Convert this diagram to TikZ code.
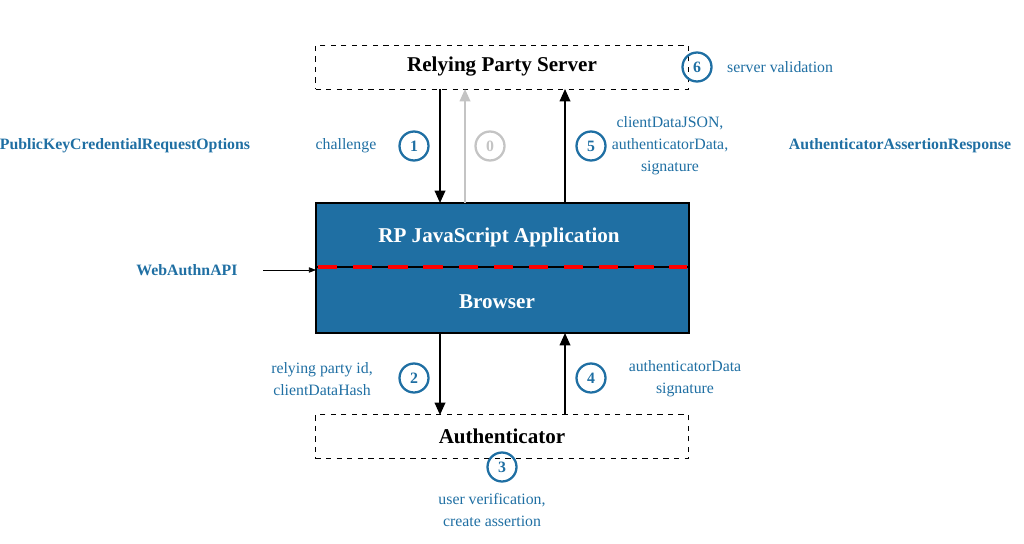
\documentclass[tikz,border=0pt]{standalone}
\usepackage{fontspec}
\setmainfont{Liberation Serif}
\usetikzlibrary{arrows.meta}
\definecolor{wablue}{HTML}{1F6FA3}
\definecolor{wagrey}{HTML}{C4C4C4}
\begin{document}
\begin{tikzpicture}[x=0.02cm,y=-0.02cm,
    every node/.style={font=\fontsize{9}{12.5}\selectfont},
    party/.style={draw,dashed,minimum width=7.46cm,minimum height=0.88cm,font=\fontsize{12}{14}\selectfont\bfseries},
    badge/.style={circle,draw=wablue,line width=1.3pt,text=wablue,minimum size=0.58cm,inner sep=0pt,font=\fontsize{9}{10}\selectfont\bfseries},
    note/.style={text=wablue,align=center},
    api/.style={text=wablue,font=\fontsize{9}{10}\selectfont\bfseries},
    flow/.style={-{Triangle[length=7pt,width=6pt]},line width=1pt}]
  \useasboundingbox (0,0) rectangle (1024,544);

  % boxes
  \node[party] (server) at (502,67) {Relying Party Server};
  \node[party] (auth) at (502,436.5) {Authenticator};
  \filldraw[fill=wablue,line width=1.6pt] (316,203) rectangle (689,333);
  \draw[line width=1.6pt] (316,267) -- (689,267);
  \draw[red,line width=2.4pt,dash pattern=on 11pt off 9pt] (318,267) -- (687,267);
  \node[text=white,font=\fontsize{12}{14}\selectfont\bfseries] (app) at (499,237) {RP JavaScript Application};
  \node[text=white,font=\fontsize{12}{14}\selectfont\bfseries] (browser) at (497,302) {Browser};

  % connectors
  \draw[flow] (440,89) -- (440,203);
  \draw[flow,wagrey] (465,203) -- (465,89);
  \draw[flow] (565,203) -- (565,89);
  \draw[flow] (440,333) -- (440,415);
  \draw[flow] (565,415) -- (565,333);
  \node[api] (webapi) at (187,270) {WebAuthnAPI};
  \draw[-{Triangle[length=4pt,width=3pt]}] (263,270) -- (316,270);

  % steps
  \node[badge] (s6) at (697,67) {6};
  \node[badge] (s1) at (414,146) {1};
  \node[badge,draw=wagrey,text=wagrey] (s0) at (490,146) {0};
  \node[badge] (s5) at (591,146) {5};
  \node[badge] (s2) at (414,378) {2};
  \node[badge] (s4) at (591,378) {4};
  \node[badge] (s3) at (502,467) {3};

  % labels
  \node[note,anchor=west] at (721,67) {server validation};
  \node[note] at (346,146) {challenge};
  \node[api] at (125,146) {PublicKeyCredentialRequestOptions};
  \node[note] at (670,146) {clientDataJSON,\\authenticatorData,\\signature};
  \node[api] at (900,146) {AuthenticatorAssertionResponse};
  \node[note] at (322,379) {relying party id,\\clientDataHash};
  \node[note] at (685,379) {authenticatorData\\signature};
  \node[note] at (492,510) {user verification,\\create assertion};
\end{tikzpicture}
\end{document}
